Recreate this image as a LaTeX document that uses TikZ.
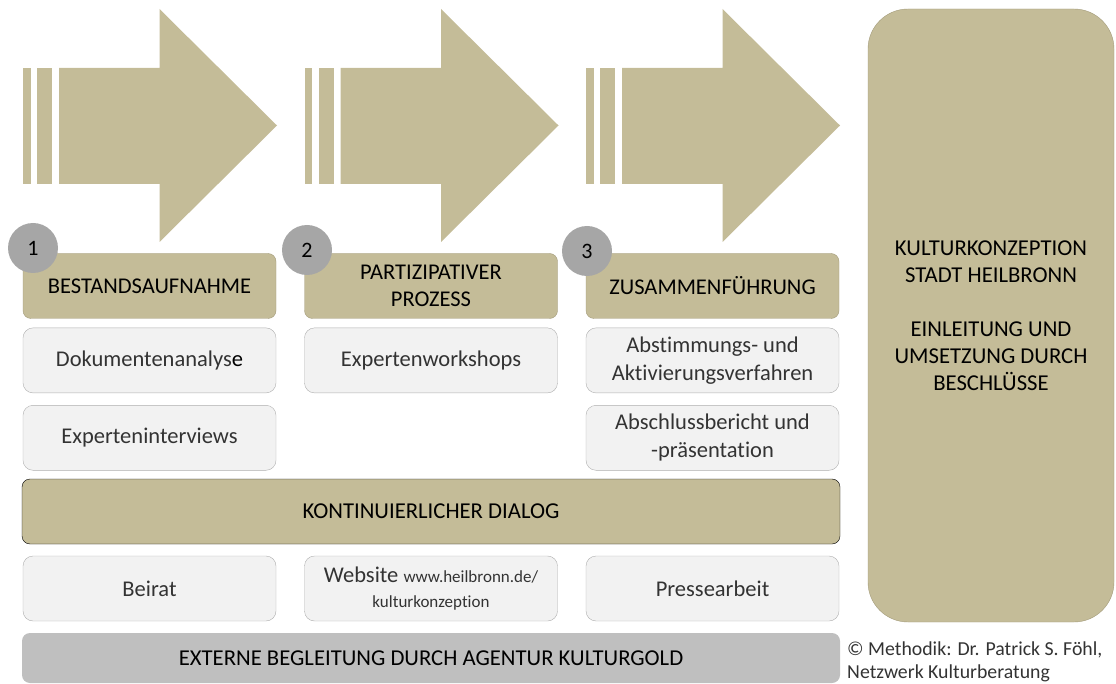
\documentclass[tikz,border=0pt]{standalone}
\usepackage{fontspec}
\setmainfont[Ligatures=NoCommon]{Carlito}
\usetikzlibrary{positioning}

\definecolor{khaki}{HTML}{C4BC98}
\definecolor{khakiline}{HTML}{A39B7B}
\definecolor{boxfill}{HTML}{F2F2F2}
\definecolor{boxline}{HTML}{AEAEAE}
\definecolor{numgray}{HTML}{A6A6A6}
\definecolor{extgray}{HTML}{BFBFBF}
\definecolor{txt}{HTML}{333333}

\begin{document}
\begin{tikzpicture}[x=1pt,y=-1pt,
  phase/.style={draw=khakiline,fill=khaki,rounded corners=8pt,minimum width=253pt,minimum height=65pt,
    inner sep=0pt,align=center,text=black,font=\fontsize{22.5}{27}\selectfont},
  itembox/.style={draw=boxline,fill=boxfill,rounded corners=10pt,minimum width=253pt,minimum height=65pt,
    inner sep=0pt,align=center,text=txt,font=\fontsize{22.5}{28}\selectfont},
  numdot/.style={circle,fill=numgray,minimum size=50pt,inner sep=0pt,text=black,font=\fontsize{22}{24}\selectfont},
  band/.style={rounded corners=8pt,minimum width=818pt,inner sep=0pt,align=center,text=black,font=\fontsize{22.7}{27}\selectfont}]
\useasboundingbox (0,0) rectangle (1116,684);

% three striped arrows
\foreach \x in {23,304.5,586}{
  \fill[khaki] (\x,68) rectangle ++(7.5,116);
  \fill[khaki] (\x+14,68) rectangle ++(15,116);
  \fill[khaki] (\x+36,68) -- (\x+136.5,68) -- (\x+136.5,9) -- (\x+254,125.5)
    -- (\x+136.5,242) -- (\x+136.5,184) -- (\x+36,184) -- cycle;
}

% phase titles
\node[phase] (bestand) at (149.5,286) {BESTANDSAUFNAHME};
\node[phase] (partizip) at (431,286) {PARTIZIPATIVER\\PROZESS};
\node[phase] (zusammen) at (712.5,286) {ZUSAMMENFÜHRUNG};

\node[numdot] (n1) at (33,248) {1};
\node[numdot] (n2) at (307,250) {2};
\node[numdot] (n3) at (587,251) {3};

% methods per phase
\node[itembox,below=9pt of bestand] (doku) {Dokumentenanalys{\color{black}e}};
\node[itembox,below=12pt of doku] (interv) {Experteninterviews};
\node[itembox,below=9pt of partizip] (workshops) {Expertenworkshops};
\node[itembox,below=9pt of zusammen] (abstimm) {Abstimmungs- und\\Aktivierungsverfahren};
\node[itembox,below=12pt of abstimm] (bericht) {Abschlussbericht und\\-präsentation};

% dialog
\node[band,draw=black,fill=khaki,minimum height=65pt] (dialog) at (431,511.5) {KONTINUIERLICHER DIALOG};
\node[itembox] (beirat) at (149.5,588.5) {Beirat};
\node[itembox,font=\fontsize{22.5}{25}\selectfont] (website) at (431,588.5)
  {Website {\fontsize{17}{25}\selectfont www.heilbronn.de/}\\{\fontsize{17}{19}\selectfont kulturkonzeption}};
\node[itembox] (presse) at (712.5,588.5) {Pressearbeit};
\node[band,fill=extgray,minimum height=50pt] (extern) at (431,658) {EXTERNE BEGLEITUNG DURCH AGENTUR KULTURGOLD};

% result
\node[draw=khakiline,fill=khaki,rounded corners=40pt,minimum width=246pt,minimum height=613pt,inner sep=0pt,
  align=center,text=black,font=\fontsize{22.7}{27}\selectfont] (konzept) at (991,315.5)
  {KULTURKONZEPTION\\STADT HEILBRONN\\[27pt]EINLEITUNG UND\\UMSETZUNG DURCH\\BESCHLÜSSE};

\node[anchor=north west,align=left,inner sep=0pt,text=txt,font=\fontsize{19.8}{23}\selectfont] (credit) at (847,642)
  {© Methodik: Dr. Patrick S. Föhl,\\Netzwerk Kulturberatung};
\end{tikzpicture}
\end{document}
